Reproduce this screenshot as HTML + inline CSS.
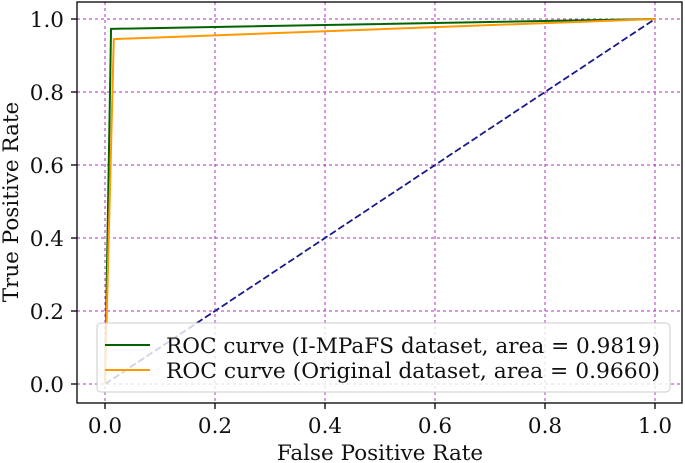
<!DOCTYPE html>
<html><head><meta charset="utf-8"><style>
body{margin:0;background:#fff}
svg{display:block;font-family:"DejaVu Serif","Liberation Serif",serif}
</style></head><body>
<svg id="chart" width="685" height="463">
<g id="grid"></g>
<g id="series"></g>
<rect x="77" y="2" width="605" height="401" fill="none" stroke="#000" stroke-width="1.3"/>
<g id="ticks"></g>
<text x="380" y="460" text-anchor="middle" font-size="21.5" fill="#111">False Positive Rate</text>
<text transform="translate(18,202) rotate(-90)" text-anchor="middle" font-size="21.5" fill="#111">True Positive Rate</text>
<g>
<rect x="97" y="323" width="573" height="69" rx="4" fill="#fff" fill-opacity="0.8" stroke="#ccc"/>
<line x1="105" y1="345" x2="150" y2="345" stroke="#006400" stroke-width="2"/>
<text x="166" y="353" font-size="21.5" fill="#111" textLength="494" lengthAdjust="spacingAndGlyphs">ROC curve (I-MPaFS dataset, area = 0.9819)</text>
<line x1="105" y1="370" x2="150" y2="370" stroke="#ff9900" stroke-width="2"/>
<text x="166" y="378" font-size="21.5" fill="#111" textLength="494" lengthAdjust="spacingAndGlyphs">ROC curve (Original dataset, area = 0.9660)</text>
</g>
</svg>
<script>
const xTicks=[0,0.2,0.4,0.6,0.8,1.0];
const yTicks=[0,0.2,0.4,0.6,0.8,1.0];
const greenFpr=[0,0.011,1];
const greenTpr=[0,0.973,1];
const orangeFpr=[0,0.016,1];
const orangeTpr=[0,0.945,1];
const diagFpr=[0,1];
const diagTpr=[0,1];
const X=v=>105+v*550, Y=v=>384-v*365;
const NS="http://www.w3.org/2000/svg";
const grid=document.getElementById('grid'),ticks=document.getElementById('ticks'),ser=document.getElementById('series');
function mk(t,a,p){const e=document.createElementNS(NS,t);for(const k in a)e.setAttribute(k,a[k]);p.appendChild(e);return e;}
xTicks.forEach(v=>{
 const g=mk('line',{x1:X(v),x2:X(v),y1:2,y2:403,stroke:'#b030c0','stroke-width':1,'stroke-dasharray':'3,3'},grid);
 
 
 mk('line',{x1:X(v),x2:X(v),y1:403,y2:409,stroke:'#000','stroke-width':1.3},ticks);
 const t=mk('text',{x:X(v),y:433,'text-anchor':'middle','font-size':21.5,fill:'#111'},ticks);
 t.textContent=v.toFixed(1);
 
 
});
yTicks.forEach(v=>{
 const g=mk('line',{x1:77,x2:682,y1:Y(v),y2:Y(v),stroke:'#b030c0','stroke-width':1,'stroke-dasharray':'3,3'},grid);
 
 
 mk('line',{x1:71,x2:77,y1:Y(v),y2:Y(v),stroke:'#000','stroke-width':1.3},ticks);
 const t=mk('text',{x:64,y:Y(v)+8,'text-anchor':'end','font-size':21.5,fill:'#111'},ticks);
 t.textContent=v.toFixed(1);
 
 
});
function line(xs,ys,attrs,name){
 const e=mk('polyline',Object.assign({points:xs.map((x,i)=>X(x)+','+Y(ys[i])).join(' '),fill:'none'},attrs),ser);
 
 
}
line(diagFpr,diagTpr,{stroke:'#1a1a8c','stroke-width':1.8,'stroke-dasharray':'7,3'},'chance-diagonal');
line(greenFpr,greenTpr,{stroke:'#006400','stroke-width':2},'roc-line-impafs');
line(orangeFpr,orangeTpr,{stroke:'#ff9900','stroke-width':2},'roc-line-original');
</script>
</body></html>
